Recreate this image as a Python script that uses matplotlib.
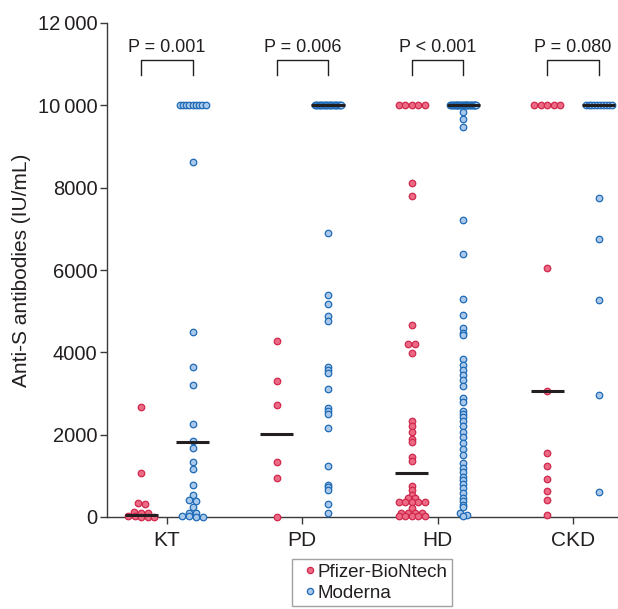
import numpy as np
import matplotlib
matplotlib.use('Agg')
import matplotlib.pyplot as plt
from matplotlib.lines import Line2D

plt.rcParams['font.family'] = ['Liberation Sans', 'DejaVu Sans']

# groups and test results
groups = ['KT', 'PD', 'HD', 'CKD']
p_labels = ['P = 0.001', 'P = 0.006', 'P < 0.001', 'P = 0.080']

# anti-S values (IU/mL), 10000 = upper limit of the assay
kt_pfizer = [2680, 1060, 330, 320, 110, 100, 90, 30, 20, 10, 10, 5]
kt_moderna = [10000] * 9 + [8630, 4490, 3650, 3210, 2260, 1850, 1670, 1345, 1160,
                            780, 535, 420, 400, 250, 100, 90, 20, 15, 10, 5]
pd_pfizer = [4280, 3300, 2710, 1330, 955, 0]
pd_moderna = [10000] * 22 + [6900, 5390, 5180, 4880, 4750, 3650, 3570, 3510, 3120,
                             2640, 2580, 2500, 2170, 1250, 780, 720, 660, 310, 90]
hd_pfizer = [10000] * 5 + [8120, 7800, 4670, 4200, 4200, 3980, 2320, 2200, 2070, 1890,
                           1830, 1450, 1360, 750, 650, 535, 450, 450, 370, 370, 370,
                           370, 370, 225, 100, 100, 100, 100, 20, 20, 20, 20, 20]
hd_moderna = [10000] * 30 + [9850, 9670, 9480, 7210, 6400, 5300, 4910, 4580, 4460, 4420,
                             3830, 3690, 3560, 3450, 3330, 3180, 2880, 2800, 2580, 2500,
                             2420, 2340, 2220, 2070, 1950, 1800, 1640, 1500, 1300, 1200,
                             1100, 980, 900, 800, 700, 575, 450, 400, 300, 235, 105, 55, 20]
ckd_pfizer = [10000] * 5 + [6040, 3050, 1550, 1250, 920, 630, 410, 50]
ckd_moderna = [10000] * 10 + [7760, 6760, 5270, 2960, 600]

pfizer = [kt_pfizer, pd_pfizer, hd_pfizer, ckd_pfizer]
moderna = [kt_moderna, pd_moderna, hd_moderna, ckd_moderna]

# medians
pfizer_median = [50, 2020, 1060, 3050]
moderna_median = [1830, 10000, 10000, 10000]

red_face, red_edge = '#EC6A83', '#D0284D'
blue_face, blue_edge = '#A9C8EA', '#1D6AB6'
ink = '#231F20'


def swarm_offsets(values, bin_size=80, dot_px=7.0, max_span_px=26.0):
    """Prism-like spreading: values falling in one bin are laid side by side"""
    values = np.asarray(values, float)
    bins = np.round(values / bin_size).astype(int)
    offs = np.zeros(len(values))
    for b in np.unique(bins):
        idx = np.where(bins == b)[0]
        n = len(idx)
        if n > 1:
            step = min(dot_px, max_span_px / (n - 1))
            offs[idx] = (np.arange(n) - (n - 1) / 2) * step
    return offs


fig = plt.figure(figsize=(6.18, 6.09), dpi=100)
ax = fig.add_axes([107 / 618, 1 - 517 / 609, 1 - 107 / 618, (517 - 23) / 609])
ax.set_xlim(-0.443, 3.333)
ax.set_ylim(0, 12000)

# pixels per x data unit
px_x = ax.transData.transform((1, 0))[0] - ax.transData.transform((0, 0))[0]
shift = 0.19

for i, g in enumerate(groups):
    for vals, med, side, fc, ec in [(pfizer[i], pfizer_median[i], -1, red_face, red_edge),
                                    (moderna[i], moderna_median[i], 1, blue_face, blue_edge)]:
        c = i + side * shift
        xs = c + swarm_offsets(vals) / px_x
        ax.scatter(xs, vals, s=22, facecolor=fc, edgecolor=ec, linewidth=0.9,
                   zorder=3, clip_on=False)
        ax.hlines(med, c - 0.122, c + 0.122, color=ink, lw=2.2, zorder=5)

    # significance bracket
    ax.plot([i - shift, i - shift, i + shift, i + shift], [10740, 11100, 11100, 10740],
            color=ink, lw=1, clip_on=False)
    ax.text(i, 11300, p_labels[i], ha='center', va='baseline', fontsize=13, color=ink)

ax.spines['top'].set_visible(False)
ax.spines['right'].set_visible(False)
for s in ['left', 'bottom']:
    ax.spines[s].set_color('#3a3a3a')
    ax.spines[s].set_linewidth(1)

yticks = np.arange(0, 12001, 2000)
ax.set_yticks(yticks)
ax.set_yticklabels([f'{v:,}'.replace(',', '\u2009') if v >= 10000 else str(v) for v in yticks])
ax.set_xticks(range(len(groups)))
ax.set_xticklabels(groups)
ax.tick_params(axis='y', direction='out', length=5, width=1, color='#3a3a3a',
               labelcolor=ink, labelsize=14.5, pad=2)
ax.tick_params(axis='x', direction='out', length=5, width=1, color='#3a3a3a',
               labelcolor=ink, labelsize=15, pad=5)
ax.set_ylabel('Anti-S antibodies (IU/mL)', fontsize=15, color=ink, labelpad=5)

handles = [Line2D([], [], ls='', marker='o', ms=4.5, mfc=red_face, mec=red_edge, mew=0.9),
           Line2D([], [], ls='', marker='o', ms=4.5, mfc=blue_face, mec=blue_edge, mew=0.9)]
leg = fig.legend(handles, ['Pfizer-BioNtech', 'Moderna'], loc='upper left',
                 bbox_to_anchor=(292 / 618, 1 - 559 / 609), frameon=True, fancybox=False,
                 edgecolor='#8a8a8a', fontsize=13.5, handlelength=1.4, handletextpad=-0.3,
                 borderpad=0.25, labelspacing=0.2, borderaxespad=0)
leg.get_frame().set_linewidth(1)
for t in leg.get_texts():
    t.set_color(ink)

fig.savefig('out.png', dpi=100)
